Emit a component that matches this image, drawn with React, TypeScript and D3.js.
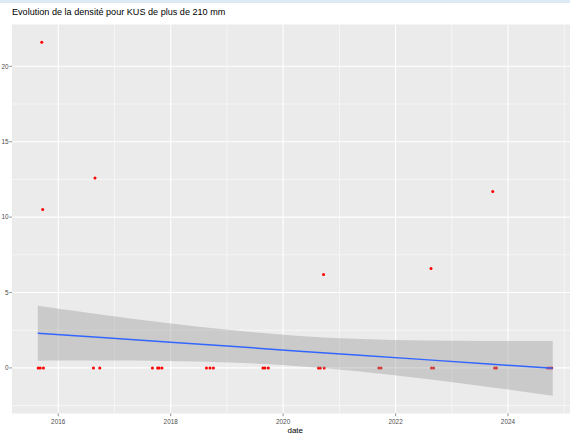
import React from "react";
import * as d3 from "d3";

// observations at zero density
const zeroDates = [
  "2015-08-24", "2015-09-06", "2015-09-27",
  "2016-08-17", "2016-09-27",
  "2017-09-04", "2017-10-08", "2017-10-17", "2017-11-05",
  "2018-08-21", "2018-09-13", "2018-10-05",
  "2019-08-23", "2019-09-05", "2019-09-27",
  "2020-08-18", "2020-08-30", "2020-09-24",
  "2021-09-14", "2021-09-28",
  "2022-08-22", "2022-09-05",
  "2023-10-06", "2023-10-18",
  "2024-09-15", "2024-09-30", "2024-10-12",
];

// non-zero observations
const peakDates = ["2015-09-16", "2015-09-22", "2016-08-27", "2020-09-20", "2022-08-19", "2023-09-24"];
const peakValues = [21.6, 10.5, 12.6, 6.2, 6.6, 11.7];

// geom_smooth (lm) fit and confidence band
const smoothDates = [
  "2015-08-21", "2016-10-10", "2017-12-06", "2019-01-26", "2020-03-23",
  "2021-05-13", "2022-07-09", "2023-08-29", "2024-10-18",
];
const smoothFit = [2.3, 2.01, 1.72, 1.43, 1.13, 0.84, 0.55, 0.26, -0.03];
const smoothUpper = [4.12, 3.53, 2.98, 2.51, 2.13, 1.91, 1.81, 1.78, 1.79];
const smoothLower = [0.48, 0.49, 0.46, 0.36, 0.13, -0.23, -0.71, -1.26, -1.85];

const majorYears = [2016, 2018, 2020, 2022, 2024];
const minorYears = [2015, 2017, 2019, 2021, 2023, 2025];
const yTicks = [0, 5, 10, 15, 20];
const yMinor = [-2.5, 2.5, 7.5, 12.5, 17.5];

const parse = d3.utcParse("%Y-%m-%d");

export default function App() {
  const width = 570;
  const height = 438;
  const panel = { left: 12, top: 24.5, bottom: 413.5 };

  const points = [
    ...zeroDates.map((d) => ({ date: parse(d) as Date, value: 0 })),
    ...peakDates.map((d, i) => ({ date: parse(d) as Date, value: peakValues[i] })),
  ];
  const smooth = smoothDates.map((d, i) => ({
    date: parse(d) as Date,
    fit: smoothFit[i],
    lo: smoothLower[i],
    hi: smoothUpper[i],
  }));

  const allTimes = [...points.map((p) => +p.date), ...smooth.map((s) => +s.date)];
  const [t0, t1] = d3.extent(allTimes) as [number, number];
  const tPad = (t1 - t0) * 0.05;
  const allValues = [...points.map((p) => p.value), ...smoothLower, ...smoothUpper];
  const [v0, v1] = d3.extent(allValues) as [number, number];
  const vPad = (v1 - v0) * 0.05;

  const panelRight = panel.left + (552 - 37) * 1.1;

  const x = d3
    .scaleUtc()
    .domain([new Date(t0 - tPad), new Date(t1 + tPad)])
    .range([panel.left, panelRight]);
  const y = d3
    .scaleLinear()
    .domain([v0 - vPad, v1 + vPad])
    .range([panel.bottom, panel.top]);

  const yearX = (yr: number) => x(Date.UTC(yr, 0, 1));

  const band = d3
    .area<(typeof smooth)[number]>()
    .x((d) => x(d.date))
    .y0((d) => y(d.lo))
    .y1((d) => y(d.hi))
    .curve(d3.curveCatmullRom);
  const line = d3
    .line<(typeof smooth)[number]>()
    .x((d) => x(d.date))
    .y((d) => y(d.fit));

  const font = "'Liberation Sans', Arial, sans-serif";

  return (
    <svg
      width={width}
      height={height}
      style={{ position: "absolute", left: 0, top: 0, background: "#fff" }}
      fontFamily={font}
    >
      <rect x={0} y={0} width={width} height={3} fill="#dde9f5" />
      <text x={12} y={15} fontSize={9.1} fill="#000">
        Evolution de la densité pour KUS de plus de 210 mm
      </text>
      <defs>
        <clipPath id="panel">
          <rect x={panel.left} y={panel.top} width={panelRight - panel.left} height={panel.bottom - panel.top} />
        </clipPath>
      </defs>
      <rect
        x={panel.left}
        y={panel.top}
        width={panelRight - panel.left}
        height={panel.bottom - panel.top}
        fill="#ebebeb"
      />
      <g clipPath="url(#panel)">
        {yMinor.map((v) => (
          <line key={`ym${v}`} x1={panel.left} x2={panelRight} y1={y(v)} y2={y(v)} stroke="#fff" strokeWidth={0.55} />
        ))}
        {minorYears.map((yr) => (
          <line key={`xm${yr}`} x1={yearX(yr)} x2={yearX(yr)} y1={panel.top} y2={panel.bottom} stroke="#fff" strokeWidth={0.55} />
        ))}
        {yTicks.map((v) => (
          <line key={`y${v}`} x1={panel.left} x2={panelRight} y1={y(v)} y2={y(v)} stroke="#fff" strokeWidth={1.1} />
        ))}
        {majorYears.map((yr) => (
          <line key={`x${yr}`} x1={yearX(yr)} x2={yearX(yr)} y1={panel.top} y2={panel.bottom} stroke="#fff" strokeWidth={1.1} />
        ))}
        {points.map((p, i) => (
          <circle key={i} cx={x(p.date)} cy={y(p.value)} r={1.5} fill="#ff0000" />
        ))}
        <path d={band(smooth) ?? ""} fill="#999999" fillOpacity={0.4} />
        <path d={line(smooth) ?? ""} fill="none" stroke="#3366ff" strokeWidth={1.5} />
      </g>
      {yTicks.map((v) => (
        <g key={`yt${v}`}>
          <line x1={panel.left - 2.7} x2={panel.left} y1={y(v)} y2={y(v)} stroke="#333" strokeWidth={0.55} />
          <text x={panel.left - 3.5} y={y(v)} dy="0.35em" textAnchor="end" fontSize={6.4} fill="#4d4d4d">
            {v}
          </text>
        </g>
      ))}
      {majorYears.map((yr) => (
        <g key={`xt${yr}`}>
          <line x1={yearX(yr)} x2={yearX(yr)} y1={panel.bottom} y2={panel.bottom + 2.7} stroke="#333" strokeWidth={0.55} />
          <text x={yearX(yr)} y={panel.bottom + 10.5} textAnchor="middle" fontSize={6.4} fill="#4d4d4d">
            {yr}
          </text>
        </g>
      ))}
      <text x={(panel.left + panelRight) / 2} y={433} textAnchor="middle" fontSize={8} fill="#000">
        date
      </text>
    </svg>
  );
}
